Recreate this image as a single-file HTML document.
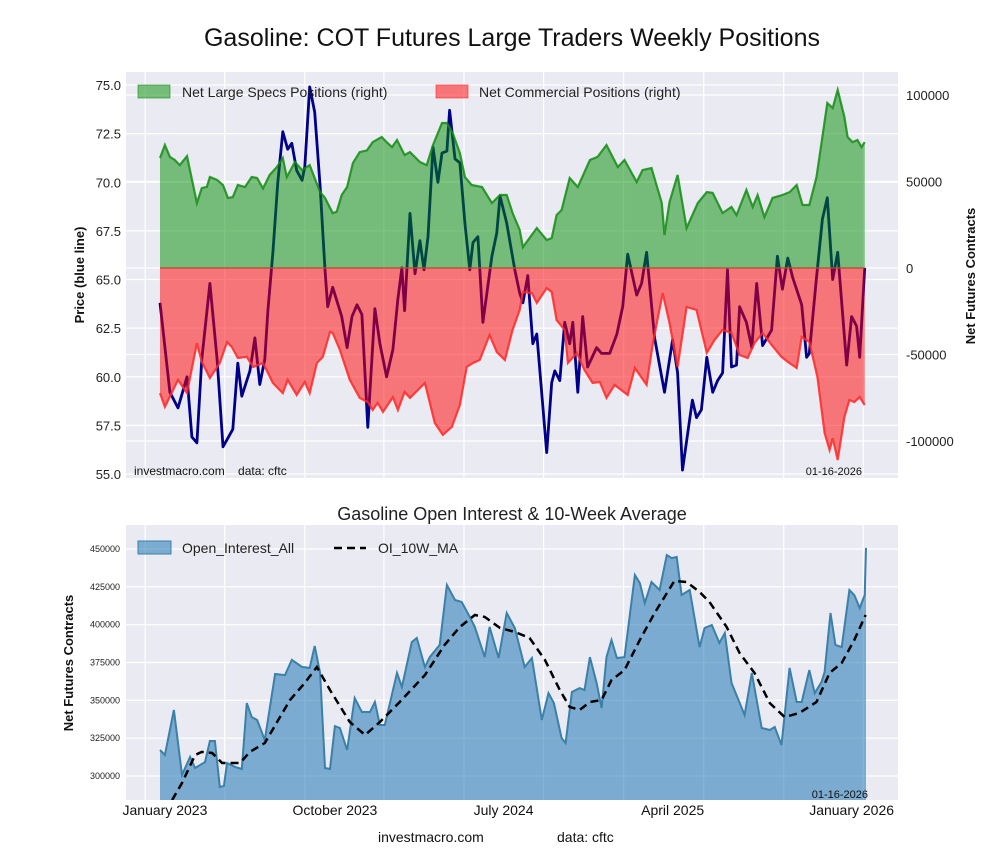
<!DOCTYPE html>
<html><head><meta charset="utf-8">
<style>
body{margin:0;background:#fff;width:1000px;height:860px;overflow:hidden;font-family:"Liberation Sans",Arial,sans-serif;}
svg{display:block}
text{font-family:"Liberation Sans",Arial,sans-serif;}
</style></head>
<body>
<svg id="chart" width="1000" height="860" viewBox="0 0 1000 860" xmlns="http://www.w3.org/2000/svg">
<text x="512" y="46" font-size="25" text-anchor="middle" fill="#111">Gasoline: COT Futures Large Traders Weekly Positions</text>
<text x="512" y="520" font-size="18" text-anchor="middle" fill="#222">Gasoline Open Interest &amp; 10-Week Average</text>
<text x="378" y="842" font-size="14" fill="#111">investmacro.com</text>
<text x="557" y="842" font-size="14" fill="#111">data: cftc</text>
<text transform="translate(84,275) rotate(-90)" font-size="13" font-weight="bold" text-anchor="middle" fill="#111">Price (blue line)</text>
<text transform="translate(975,276) rotate(-90)" font-size="13" font-weight="bold" text-anchor="middle" fill="#111">Net Futures Contracts</text>
<text transform="translate(73,663) rotate(-90)" font-size="13" font-weight="bold" text-anchor="middle" fill="#111">Net Futures Contracts</text>
<g id="topPanel"></g>
<g id="bottomPanel"></g>
</svg>
<script>
// ---- data (x in weeks since first report, ~Jan 2023) ----
const priceWeeks=[0,2.2,4,6,7.1,8.2,9.3,11.1,12.7,14,16.2,17.3,18.2,20,21.1,22.2,23.3,24,25.1,26.2,27.3,28.4,29.3,30.4,31.6,32.2,33.3,34.4,35.6,36.7,37.3,38.4,40.4,41.6,42.7,43.8,44.9,46.2,47.8,48.9,50.4,51.8,52.9,53.8,54.4,55.6,56.7,57.8,58.7,59.6,60.7,61.8,62.7,63.8,64.4,65.6,66.7,67.8,68.9,69.6,70.7,71.8,73.8,74.9,75.6,77.1,78.9,80,80.7,81.8,82.9,83.8,86,87.1,87.8,88.9,90,91.1,91.8,92.9,94,95.1,97.1,98.2,100,101.6,102.9,104,106,107.1,108.2,110,112.2,114,115.1,116.2,118.4,119.3,120.4,121.6,122.9,124,125.1,126.2,127.1,128.2,128.9,130.4,131.6,132.7,134,136,137.3,138.4,139.6,140.7,142.7,143.8,144.4,146,147.3,148.4,149.6,150.7,152.7,153.8,154.9,155.6,156.7];
const priceVals=[63.8,59.2,58.4,60.0,56.9,56.6,60.9,64.8,60.9,56.4,57.3,60.7,59.0,60.3,62.0,59.6,60.9,63.4,66.4,70.0,72.6,71.7,72.0,70.6,70.1,70.8,74.9,73.6,69.8,65.5,63.6,64.6,63.1,61.5,63.1,63.7,63.2,57.4,63.5,61.7,60.0,61.4,64.0,65.6,63.4,68.4,65.3,67.0,65.5,67.2,71.8,70.0,71.5,71.6,73.7,71.2,71.0,67.9,65.5,66.9,67.2,62.8,66.2,67.4,69.3,67.9,65.5,64.3,63.8,65.2,61.7,62.2,56.1,59.7,60.3,59.8,62.8,61.7,62.8,59.2,63.1,60.5,61.5,61.2,61.2,62.2,63.6,66.3,64.2,64.8,66.4,62.0,59.2,61.9,60.2,55.2,58.8,57.9,58.3,61.0,59.2,59.8,60.2,65.5,60.5,60.6,63.6,62.8,61.5,64.8,61.6,62.4,66.2,64.5,66.1,65.1,63.7,61.0,61.2,65.1,68.1,69.2,65.0,66.4,60.6,63.1,62.6,61.0,65.6];
const specWeeks=[0,1.1,2.2,3.3,4.4,6,8.2,9.3,10.4,11.1,12.7,14,15.1,16.2,17.3,18.9,20.4,21.6,22.9,24.4,26,27.3,28.2,30,31.6,33.3,35.6,36.7,38.4,39.3,40.4,41.6,42.9,44.4,46,47.3,49.3,50.4,51.6,52.7,54.4,55.6,57.8,59.3,60.7,62.7,63.8,65.1,66.7,67.8,69.3,71.6,73.8,75.6,77.1,78.4,80,80.7,83.8,86,87.1,88.2,89.3,91.1,92.9,95.6,97.3,99.3,101.8,103.3,106,107.3,109.3,111.6,112.2,113.3,115.1,117.1,119.6,121.6,122.9,125.1,127.1,128.2,130.4,131.8,132.9,134.4,136.2,138.4,140,141.6,142.9,144.4,146,147.1,148.4,149.6,150.7,152.2,152.9,154,155.1,156,156.7];
const specVals=[63.6,71.1,64.2,62.4,59.5,64.7,37.6,46.2,46.8,52.6,50.9,48,40.5,41,48,46.8,52.6,52,46,53.8,58.4,63.6,52.6,61.3,56.6,59.5,43.9,40.5,31.8,32.5,42.2,46.8,60.7,67,68,72.8,75.7,72.8,69.9,74,65.3,67,61.3,59.5,71.1,83.8,83.8,78,66.5,52.6,48,46.8,37.6,42.2,42.2,31.8,22,12.1,23.1,16.2,17.3,30.6,33.5,52,46.8,62.4,64.2,71.1,58.4,62.4,49.7,56.6,57.8,37.6,19.1,38.1,53.8,23.1,37.6,43.9,43.4,31.8,35.3,30.6,45.1,35.3,42.2,29.5,40.5,42.2,43.9,48,36.4,36.4,52.6,72.3,95.4,92.5,102.9,87.3,75.7,72.8,74,69.9,72.8];
const commWeeks=[0,1.1,2.7,4,6,8.2,9.3,11.1,13.3,14.9,16,17.3,19.3,20.7,22.9,25.1,27.3,28.4,30.4,32.2,33.3,34.9,36.2,37.8,38.4,40,42.2,44.4,46.2,47.3,48.4,49.6,51.8,52.9,54.4,55.6,58.9,61.1,62.9,64.9,66.7,68.2,69.6,71.1,73.3,74.9,76.7,78.4,80,80.7,82.7,83.8,86,87.1,88.2,90,90.7,92.7,94.4,96.2,97.8,99.3,101.1,104,105.6,108.2,109.6,111.8,113.3,115.1,117.1,119.3,121.6,123.3,125.1,127.1,128.9,130.7,132.2,134,136,138.2,139.6,141.6,142.7,144.4,146.2,147.8,148.9,149.6,150.7,152.2,153.3,154.4,155.6,156.7];
const commVals=[-72.3,-80.3,-71.7,-64.7,-72.3,-43.4,-54.3,-63.6,-54.9,-42.8,-45.7,-52,-51.4,-57.2,-54.9,-66.5,-72.3,-64.7,-73.4,-65.9,-72.3,-54.9,-51.4,-37,-37.6,-47.4,-64.7,-75.1,-77.5,-82.1,-78,-83.2,-74.6,-82.1,-71.7,-75.1,-66.5,-89.6,-96.5,-91.9,-79.2,-57.2,-54.9,-53.2,-38.7,-48.6,-53.2,-35.8,-24.3,-13.9,-14.5,-20.2,-11.6,-13.9,-30.1,-35.8,-54.9,-49.1,-59,-66.5,-65.9,-75.1,-67.6,-73.4,-57.8,-67.6,-43.4,-14.5,-31.8,-57.2,-22.5,-24.3,-49.1,-41.6,-35.8,-37.6,-50.3,-52,-43.4,-37.6,-44.5,-51.4,-54.3,-57.8,-39.9,-42.8,-63,-95.4,-105.2,-98.3,-111,-86.1,-76.3,-77.5,-74.6,-79.2];
const oiWeeks=[0,1.1,3.1,4.9,6.7,7.8,10,11.1,12.2,13.3,14.2,14.9,16.7,18.2,19.3,20.4,21.6,23.3,25.6,27.8,29.3,31.6,33.3,34.4,35.6,36.7,37.8,38.9,40,41.6,43.3,44.9,46.7,47.8,48.9,50,52.7,53.8,56,57.1,58.9,60,62.2,63.8,65.6,67.1,68.9,70,72.2,73.3,75.3,77.1,78.9,81.1,82.7,84.9,86.4,87.6,89.3,90.2,91.6,93.3,94.4,95.6,97.1,98.2,99.3,100.4,101.6,103.3,105.6,106.7,107.8,109.3,111.1,112.7,113.8,114.9,116,117.8,120,121.1,122.7,124.4,125.6,127.1,130,131.6,133.8,135.6,136.7,138.2,140,141.6,142.7,144.4,145.6,147.1,147.8,149.1,150.2,151.6,153.3,154.4,155.6,156.7,157];
const oiVals=[317.2,313.9,343.6,300.7,312.6,305.3,309.2,323.1,323.1,292.7,293.4,308.6,306,304.6,348.2,339,337,323.8,367.4,366.7,376.7,372,371.4,385.9,368.1,305.3,304.6,333,331.7,317.2,351.5,342.3,342.3,348.9,333.7,333.7,368.1,358.8,388.5,391.2,372,378.6,386.6,426.2,416.3,415,405.1,398.5,378.6,398.5,378,407.7,397.8,372,378,337,354.8,348.2,325.1,321.8,355.5,358.1,356.8,378.6,361.5,344.9,378.6,389.9,378,378.6,432.8,427.5,414.3,428.2,422.9,446,444,444.7,419.6,422.9,385.2,397.8,399.8,387.9,394.5,361.5,340.3,368.1,331.7,330.4,332.4,320.5,371.4,348.9,348.9,370,354.8,362.1,368.7,407.7,386.6,385.2,422.9,419.6,411,419.6,450.7];
const maWeeks=[2.7,4.9,7.8,9.3,11.6,13.8,17.8,20,23.3,28.9,32.2,34.9,37.8,42.2,45.6,48.9,53.3,58.9,63.3,66.7,70,72.2,75.6,78.9,82.2,85.6,88.9,91.1,93.3,95.6,98.2,100.4,103.3,106.7,110,112.2,114.4,117.1,120,122.2,126,128.9,132.2,135.6,138.9,142.2,146,148.9,151.6,154.4,156.9];
const maVals=[284.1,295.4,313.9,315.9,315.2,308.6,308.6,315.9,321.8,350.2,361.5,372,356.8,335.7,327.1,335.7,348.9,366.7,386.6,398.5,406.4,405.1,397.8,395.2,391.2,376.7,356.8,345.6,343.6,348.9,350.2,363.4,370,389.9,407.7,418.3,428.9,428.2,421.6,415,398.5,381.3,368.1,348.2,339,341.6,348.9,368.1,374.7,389.9,406.4];
const priceTicks=[55.0,57.5,60.0,62.5,65.0,67.5,70.0,72.5,75.0];
const netTicks=[-100000,-50000,0,50000,100000];
const oiTicks=[300000,325000,350000,375000,400000,425000,450000];
const xTickWeeks=[1.1,38.9,76.4,114,153.8];
const xTickLabels=["January 2023","October 2023","July 2024","April 2025","January 2026"];
const xGridWeeks=[-3.3,14.4,32.2,49.8,67.6,85.3,103.1,120.9,138.7,156.4];

// ---- layout ----
const L=126,R=898,T1=72,B1=478,T2=525,B2=800;
const X=w=>L+34+w*(706/157);
const YP=v=>85+(75-v)*19.45;
const YN=k=>268-k*1.73;          // k in thousands
const YO=k=>549+(450-k)/0.6608;  // k in thousands
const NS="http://www.w3.org/2000/svg";
function mk(tag,attrs,parent){const e=document.createElementNS(NS,tag);for(const a in attrs)e.setAttribute(a,attrs[a]);parent.appendChild(e);return e;}
const topG=document.getElementById('topPanel'),botG=document.getElementById('bottomPanel');

const defs=mk('defs',{},document.getElementById('chart'));
const c1=mk('clipPath',{id:'c1'},defs);mk('rect',{x:L,y:T1,width:R-L,height:B1-T1},c1);
const c2=mk('clipPath',{id:'c2'},defs);mk('rect',{x:L,y:T2,width:R-L,height:B2-T2},c2);

// ---- top panel ----
let bg=mk('rect',{x:L,y:T1,width:R-L,height:B1-T1,fill:'#eaeaf2'},topG);


xGridWeeks.forEach(w=>{let g=mk('line',{x1:X(w),x2:X(w),y1:T1,y2:B1,stroke:'#fff','stroke-width':1.2},topG);

});
priceTicks.forEach(v=>{let g=mk('line',{x1:L,x2:R,y1:YP(v),y2:YP(v),stroke:'#fff','stroke-width':1.2},topG);


let t=mk('text',{x:L-5,y:YP(v)+5,'font-size':13,'text-anchor':'end',fill:'#222'},topG);t.textContent=v.toFixed(1);

});
netTicks.forEach(v=>{let g=mk('line',{x1:L,x2:R,y1:YN(v/1000),y2:YN(v/1000),stroke:'#fff','stroke-width':1.2},topG);


let t=mk('text',{x:R+8,y:YN(v/1000)+5,'font-size':13,fill:'#222'},topG);t.textContent=String(v);

});

const g1=mk('g',{'clip-path':'url(#c1)'},topG);
function linePts(ws,vs,fy){return ws.map((w,i)=>X(w).toFixed(1)+','+fy(vs[i]).toFixed(1)).join(' ');}
let pl=mk('polyline',{points:linePts(priceWeeks,priceVals,YP),fill:'none',stroke:'#00008b','stroke-width':2.8,'stroke-linejoin':'round'},g1);


function area(ws,vs,fy,base){let p='M'+X(ws[0]).toFixed(1)+','+base;ws.forEach((w,i)=>p+=' L'+X(w).toFixed(1)+','+fy(vs[i]).toFixed(1));p+=' L'+X(ws[ws.length-1]).toFixed(1)+','+base+' Z';return p;}
let ga=mk('path',{d:area(specWeeks,specVals,YN,YN(0)),fill:'rgba(0,140,0,0.5)'},g1);


let gl=mk('polyline',{points:linePts(specWeeks,specVals,YN),fill:'none',stroke:'rgba(20,140,20,0.85)','stroke-width':2.2},g1);


let ra=mk('path',{d:area(commWeeks,commVals,YN,YN(0)),fill:'rgba(255,0,0,0.5)'},g1);


let rl=mk('polyline',{points:linePts(commWeeks,commVals,YN),fill:'none',stroke:'rgba(255,40,40,0.85)','stroke-width':2.2},g1);


let zl=mk('line',{x1:X(0),x2:X(156.7),y1:YN(0),y2:YN(0),stroke:'#b84a2a','stroke-width':1.2},g1);



let lg=mk('g',{},topG);


mk('rect',{x:138,y:85,width:32,height:13,fill:'rgba(0,140,0,0.5)',stroke:'rgba(20,140,20,0.6)'},lg);
let lt1=mk('text',{x:182,y:97,'font-size':14,fill:'#222'},lg);lt1.textContent='Net Large Specs Positions (right)';


mk('rect',{x:436,y:85,width:32,height:13,fill:'rgba(255,0,0,0.5)',stroke:'rgba(255,40,40,0.6)'},lg);
let lt2=mk('text',{x:479,y:97,'font-size':14,fill:'#222'},lg);lt2.textContent='Net Commercial Positions (right)';


let w1=mk('text',{x:134,y:475,'font-size':12,fill:'#111'},topG);w1.textContent='investmacro.com\u00a0\u00a0\u00a0\u00a0data: cftc';


let d1=mk('text',{x:862,y:475,'font-size':11,'text-anchor':'end',fill:'#111'},topG);d1.textContent='01-16-2026';



// ---- bottom panel ----
let bg2=mk('rect',{x:L,y:T2,width:R-L,height:B2-T2,fill:'#eaeaf2'},botG);


xGridWeeks.forEach(w=>{let g=mk('line',{x1:X(w),x2:X(w),y1:T2,y2:B2,stroke:'#fff','stroke-width':1.2},botG);

});
oiTicks.forEach(v=>{let g=mk('line',{x1:L,x2:R,y1:YO(v/1000),y2:YO(v/1000),stroke:'#fff','stroke-width':1.2},botG);


let t=mk('text',{x:L-6,y:YO(v/1000)+3,'font-size':9,'text-anchor':'end',fill:'#222'},botG);t.textContent=String(v);

});
const g2=mk('g',{'clip-path':'url(#c2)'},botG);
let oa=mk('path',{d:area(oiWeeks,oiVals,YO,B2+2),fill:'rgba(31,119,180,0.55)'},g2);


let ol=mk('polyline',{points:linePts(oiWeeks,oiVals,YO),fill:'none',stroke:'#3a80a8','stroke-width':2},g2);


let ml=mk('polyline',{points:linePts(maWeeks,maVals,YO),fill:'none',stroke:'#000','stroke-width':2.5,'stroke-dasharray':'8,5'},g2);


xTickWeeks.forEach((w,i)=>{let t=mk('text',{x:X(w),y:815,'font-size':14,'text-anchor':'middle',fill:'#111'},botG);t.textContent=xTickLabels[i];

});
let lg2=mk('g',{},botG);


mk('rect',{x:138,y:541,width:33,height:13,fill:'rgba(31,119,180,0.55)',stroke:'#3a80a8'},lg2);
let lt3=mk('text',{x:182,y:553,'font-size':14,fill:'#222'},lg2);lt3.textContent='Open_Interest_All';


mk('line',{x1:334,x2:366,y1:548,y2:548,stroke:'#000','stroke-width':2.5,'stroke-dasharray':'8,5'},lg2);
let lt4=mk('text',{x:378,y:553,'font-size':14,fill:'#222'},lg2);lt4.textContent='OI_10W_MA';


let d2=mk('text',{x:868,y:798,'font-size':11,'text-anchor':'end',fill:'#111'},botG);d2.textContent='01-16-2026';


</script>
</body></html>
